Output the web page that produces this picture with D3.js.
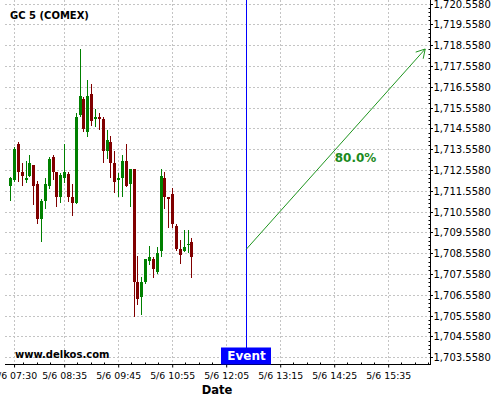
<!DOCTYPE html>
<html><head><meta charset="utf-8">
<script src="https://cdn.jsdelivr.net/npm/d3@7"></script>
<style>
body{margin:0;background:#fff}
svg{display:block;font-family:"DejaVu Sans",sans-serif}
</style>
</head><body>
<svg id="c" width="500" height="400"></svg>
<script>
const times = ["07:25","07:30","07:35","07:40","07:45","07:50","07:55","08:00","08:05","08:10","08:15","08:20","08:25","08:30","08:35","08:40","08:45","08:50","08:55","09:00","09:05","09:10","09:15","09:20","09:25","09:30","09:35","09:40","09:45","09:50","09:55","10:00","10:05","10:10","10:15","10:20","10:25","10:30","10:35","10:40","10:45","10:50","10:55","11:00","11:05","11:10","11:15","11:20"];
const opens = [1711.83,1712.12,1713.83,1712.49,1712.12,1712.31,1712.82,1711.91,1710.24,1711.11,1711.81,1713.22,1712.49,1711.30,1712.21,1712.39,1711.30,1711.01,1715.24,1716.01,1714.42,1716.24,1715.05,1715.13,1715.03,1713.51,1713.93,1712.92,1712.12,1712.21,1713.02,1711.91,1712.62,1707.21,1706.49,1707.21,1708.22,1708.30,1707.69,1708.70,1712.21,1711.30,1711.43,1709.90,1708.78,1708.70,1708.98,1709.14];
const highs = [1712.25,1713.67,1713.91,1712.90,1713.00,1713.29,1712.82,1712.07,1711.19,1712.18,1713.21,1713.30,1712.49,1712.45,1713.82,1712.49,1711.91,1715.32,1718.39,1716.11,1716.89,1716.70,1715.52,1715.31,1715.12,1714.51,1714.22,1713.48,1712.45,1713.29,1713.82,1712.62,1712.62,1708.45,1707.45,1708.30,1708.94,1708.39,1708.89,1712.62,1712.47,1711.30,1711.70,1709.99,1709.22,1709.70,1709.70,1709.30];
const lows = [1711.08,1712.02,1711.99,1711.81,1711.97,1712.26,1710.89,1709.97,1709.11,1710.69,1711.68,1712.10,1710.79,1710.98,1711.97,1711.06,1710.39,1710.95,1715.12,1714.39,1714.18,1714.70,1714.66,1714.51,1712.90,1713.10,1712.20,1711.50,1711.28,1711.28,1711.78,1710.79,1705.53,1706.08,1705.61,1707.10,1708.00,1707.38,1707.58,1708.41,1710.69,1709.78,1709.78,1708.69,1708.08,1708.64,1708.58,1707.38];
const closes = [1712.20,1713.58,1712.50,1712.31,1712.20,1712.92,1711.83,1710.24,1711.11,1711.91,1713.11,1712.50,1711.30,1712.33,1712.49,1711.30,1711.01,1715.13,1716.14,1714.54,1716.14,1714.95,1715.13,1715.05,1713.51,1714.02,1712.93,1712.02,1712.21,1713.02,1711.81,1712.62,1707.21,1706.39,1707.21,1708.30,1708.39,1707.81,1708.59,1712.29,1711.30,1711.20,1709.99,1708.80,1708.50,1708.89,1709.02,1708.41];

const xTickTimes = ["07:30","08:35","09:45","10:55","12:05","13:15","14:25","15:35"];
const yTicks = [1703.558,1704.558,1705.558,1706.558,1707.558,1708.558,1709.558,1710.558,1711.558,1712.558,1713.558,1714.558,1715.558,1716.558,1717.558,1718.558,1719.558,1720.558];

const eventTime = "12:31";
const arrowEndTime = "16:23";
const arrowStartPrice = 1708.77;
const arrowEndPrice = 1718.40;
const probabilityLabel = "80.0%";
const title = "GC 5 (COMEX)";
const watermark = "www.delkos.com";
const xTitle = "Date";
const eventLabel = "Event";

const parse = s => { const [h,m] = s.split(":").map(Number); return new Date(2020,4,6,h,m); };

const L = 5, R = 430.5, T = 0, B = 364.5;
const x = d3.scaleTime().domain([parse("07:25"), parse("16:25")]).range([10.2, 10.2 + 540*0.7714]);
const y = d3.scaleLinear().domain([1703.558, 1720.558]).range([357.7, 4.1]);

const svg = d3.select("#c");
const green = "#008000", red = "#800000", grid = "#c4c4c4";

// grid
const g = svg.append("g").attr("class","grid");
g.selectAll("line.h").data(yTicks).join("line")
  .attr("x1", L).attr("x2", R)
  .attr("y1", d => Math.floor(y(d)) + 0.5).attr("y2", d => Math.floor(y(d)) + 0.5)
  .attr("stroke", grid).attr("stroke-dasharray","2,2");
g.selectAll("line.v").data(xTickTimes).join("line")
  .attr("x1", d => Math.floor(x(parse(d))) + 0.5).attr("x2", d => Math.floor(x(parse(d))) + 0.5)
  .attr("y1", T).attr("y2", B)
  .attr("stroke", grid).attr("stroke-dasharray","2,2");

// candles
const data = times.map((t,i) => ({t: parse(t), o: opens[i], h: highs[i], l: lows[i], c: closes[i]}));
const cg = svg.append("g").attr("shape-rendering","crispEdges");
const cand = cg.selectAll("g").data(data).join("g");
cand.append("rect")
  .attr("x", d => Math.round(x(d.t)))
  .attr("width", 1)
  .attr("y", d => y(d.h))
  .attr("height", d => Math.max(1, y(d.l) - y(d.h)))
  .attr("fill", d => d.c >= d.o ? green : red);
cand.append("rect")
  .attr("x", d => Math.round(x(d.t)) - 1)
  .attr("width", 3)
  .attr("y", d => y(Math.max(d.o, d.c)))
  .attr("height", d => Math.max(1, Math.abs(y(d.o) - y(d.c))))
  .attr("fill", d => d.c >= d.o ? green : red);

// event line
const ex = Math.floor(x(parse(eventTime))) + 0.5;
svg.append("line").attr("x1", ex).attr("x2", ex).attr("y1", T).attr("y2", B - 16)
  .attr("stroke", "#0000ff").attr("stroke-width", 1);

// arrow
const ax1 = x(parse(eventTime)), ay1 = y(arrowStartPrice);
const ax2 = x(parse(arrowEndTime)), ay2 = y(arrowEndPrice);
const arrowColor = "#1f951f";
svg.append("line").attr("x1", ax1).attr("y1", ay1).attr("x2", ax2).attr("y2", ay2)
  .attr("stroke", arrowColor).attr("stroke-width", 1);
const ang = Math.atan2(ay1 - ay2, ax1 - ax2);
[Math.PI/6, -Math.PI/6].forEach(a => {
  svg.append("line").attr("x1", ax2).attr("y1", ay2)
    .attr("x2", ax2 + 10*Math.cos(ang + a)).attr("y2", ay2 + 10*Math.sin(ang + a))
    .attr("stroke", arrowColor).attr("stroke-width", 1);
});
svg.append("text").attr("x", (ax1 + ax2)/2 - 1).attr("y", (ay1 + ay2)/2 + 12.5)
  .attr("font-size", 12).attr("font-weight", "bold").attr("fill", "#1c8a1c")
  .text(probabilityLabel);

// axes
const xAxis = d3.axisBottom(x).tickValues(xTickTimes.map(parse))
  .tickFormat(d3.timeFormat("%-m/%-d %H:%M")).tickSizeInner(3).tickSizeOuter(0).tickPadding(4.5);
const xa = svg.append("g").attr("transform", `translate(0,${B})`).call(xAxis);
xa.select(".domain").remove();
xa.selectAll("text").attr("font-size", 9.4).attr("font-family", "DejaVu Sans").attr("fill","#000");
xa.selectAll("line").attr("stroke","#000");
// minor x ticks (4 per major interval)
const minorX = [];
xTickTimes.slice(1).forEach((t, i) => {
  if (i < xTickTimes.length - 2) for (let k = 1; k < 4; k++) minorX.push(new Date(+parse(t) + k*17.5*60000));
});
for (let k = 1; k < 4; k++) minorX.push(new Date(+parse("15:35") + k*17.5*60000));
for (let k = 1; k < 4; k++) minorX.push(new Date(+parse("08:35") - k*17.5*60000));
svg.append("g").selectAll("line").data(minorX).join("line")
  .attr("x1", d => Math.floor(x(d)) + 0.5).attr("x2", d => Math.floor(x(d)) + 0.5)
  .attr("y1", B - 2).attr("y2", B).attr("stroke", "#000");
svg.append("line").attr("x1", L).attr("x2", R + 0.5).attr("y1", B).attr("y2", B).attr("stroke", "#000");

const yAxis = d3.axisRight(y).tickValues(yTicks).tickFormat(d3.format(",.4f"))
  .tickSizeInner(2.5).tickSizeOuter(0).tickPadding(0.5);
const ya = svg.append("g").attr("transform", `translate(${R},0)`).call(yAxis);
ya.select(".domain").remove();
ya.selectAll(".tick line").attr("transform", "translate(0,0)");
ya.selectAll(".tick").attr("transform", d => `translate(0,${Math.floor(y(d)) + 0.5})`);
ya.selectAll("text").attr("font-size", 10).attr("font-family", "DejaVu Sans").attr("fill","#000");
ya.selectAll("line").attr("stroke","#000");
// minor y ticks
const minorY = [];
yTicks.slice(0, -1).forEach(t => { for (let k = 1; k < 5; k++) minorY.push(t + k*0.2); });
svg.append("g").selectAll("line").data(minorY).join("line")
  .attr("x1", R - 2).attr("x2", R)
  .attr("y1", d => Math.floor(y(d)) + 0.5).attr("y2", d => Math.floor(y(d)) + 0.5)
  .attr("stroke", "#000");
svg.append("line").attr("x1", R).attr("x2", R).attr("y1", T).attr("y2", B).attr("stroke", "#000");

// event label box
svg.append("rect").attr("x", ex - 25.5).attr("y", B - 17).attr("width", 50).attr("height", 17)
  .attr("fill", "#0000ff");
svg.append("text").attr("x", ex).attr("y", B - 4.5).attr("text-anchor","middle")
  .attr("font-size", 12).attr("font-weight","bold").attr("fill","#fff").text(eventLabel);

// texts
svg.append("text").attr("x", 10).attr("y", 18.5).attr("font-size", 10).attr("font-weight","bold")
  .attr("fill","#000").text(title);
svg.append("text").attr("x", 15).attr("y", 357.5).attr("font-size", 10).attr("font-weight","bold")
  .attr("fill","#000").text(watermark);
svg.append("text").attr("x", 217).attr("y", 393.5).attr("text-anchor","middle")
  .attr("font-size", 11.5).attr("font-weight","bold").attr("fill","#000").text(xTitle);
</script>
</body></html>
